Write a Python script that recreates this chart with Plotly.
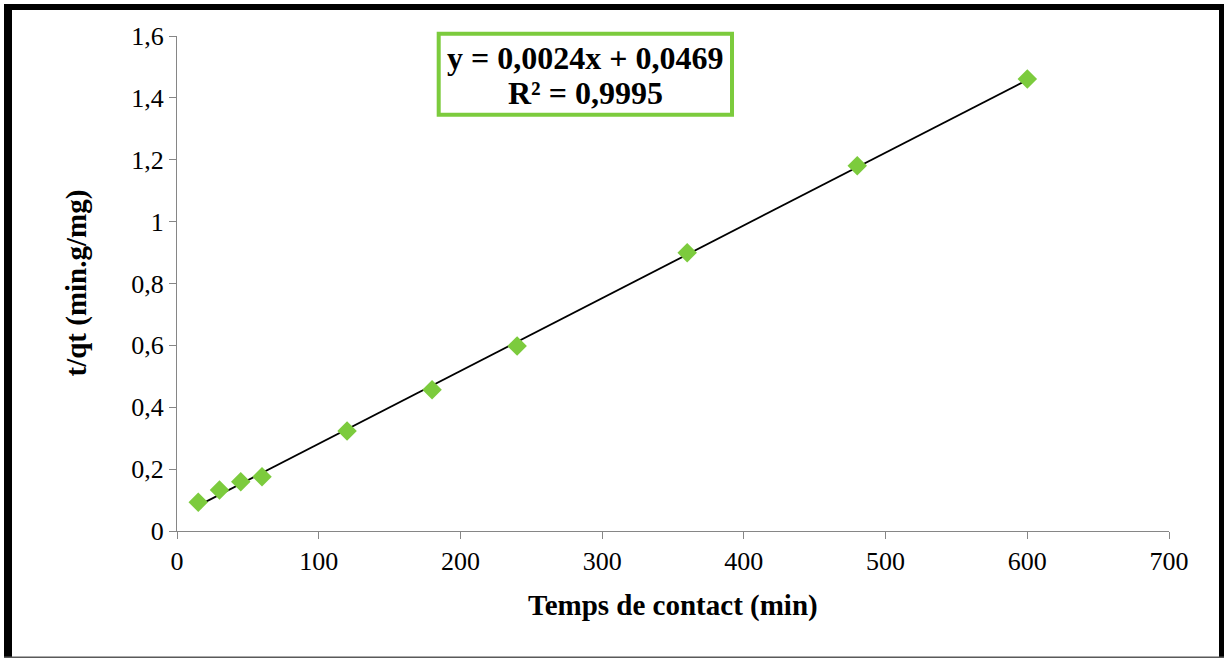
import numpy as np
import plotly.graph_objects as go

# Pseudo-second-order kinetics: t/qt versus contact time
temps = [15, 30, 45, 60, 120, 180, 240, 360, 480, 600]
t_sur_qt = [0.0928, 0.1323, 0.159, 0.1755, 0.323, 0.4569, 0.598, 0.8995, 1.181, 1.461]

x_ticks = [0, 100, 200, 300, 400, 500, 600, 700]
y_ticks = [0, 0.2, 0.4, 0.6, 0.8, 1.0, 1.2, 1.4, 1.6]

GREEN = "#7CCB3D"
AXIS_GREY = "#868686"
FONT = "Liberation Serif"

# Linear least-squares trendline
x_arr = np.array(temps, dtype=float)
y_arr = np.array(t_sur_qt, dtype=float)
pente, ordonnee = np.polyfit(x_arr, y_arr, 1)
y_fit = pente * x_arr + ordonnee
r2 = 1 - np.sum((y_arr - y_fit) ** 2) / np.sum((y_arr - y_arr.mean()) ** 2)

def fr(v, n=4):
    return f"{v:.{n}f}".replace(".", ",")

eq_text = f"y = {fr(pente)}x + {fr(ordonnee)}"
r2_text = f"R² = {fr(r2)}"

fig = go.Figure()

x_line = np.array([x_arr.min(), x_arr.max()])
fig.add_trace(go.Scatter(
    x=x_line, y=pente * x_line + ordonnee, mode="lines",
    line=dict(color="black", width=1.8), hoverinfo="skip", showlegend=False,
))
fig.add_trace(go.Scatter(
    x=temps, y=t_sur_qt, mode="markers",
    marker=dict(symbol="diamond", size=15, color=GREEN, line=dict(width=0)),
    showlegend=False,
))

# plot area in pixels: left 177, right 1169, top 36, bottom 531
L, R, T, B = 177, 1169, 36, 531
W, H = R - L, B - T

def px(x):
    return (x - L) / W

def py(y):
    return (B - y) / H

shapes = [
    # outer frame
    dict(type="rect", xref="paper", yref="paper", x0=px(4), x1=px(12), y0=py(658), y1=py(4),
         fillcolor="black", line=dict(width=0), layer="above"),
    dict(type="rect", xref="paper", yref="paper", x0=px(4), x1=px(1224), y0=py(10), y1=py(4),
         fillcolor="black", line=dict(width=0), layer="above"),
    dict(type="rect", xref="paper", yref="paper", x0=px(1219), x1=px(1224), y0=py(658), y1=py(4),
         fillcolor="black", line=dict(width=0), layer="above"),
    dict(type="rect", xref="paper", yref="paper", x0=px(4), x1=px(1224), y0=py(658), y1=py(656.5),
         fillcolor="#595959", line=dict(width=0), layer="above"),
    # equation box
    dict(type="rect", xref="paper", yref="paper", x0=px(438.7), x1=px(732), y0=py(114.7), y1=py(33.7),
         fillcolor="white", line=dict(color=GREEN, width=4), layer="above"),
]

annotations = [
    dict(text=eq_text, xref="paper", yref="paper", x=px(585), y=py(58), xanchor="center", yanchor="middle",
         showarrow=False, font=dict(family=FONT, size=32, color="black", weight="bold")),
    dict(text=r2_text, xref="paper", yref="paper", x=px(585), y=py(93), xanchor="center", yanchor="middle",
         showarrow=False, font=dict(family=FONT, size=32, color="black", weight="bold")),
    dict(text="Temps de contact (min)", xref="paper", yref="paper", x=0.5, y=py(605),
         xanchor="center", yanchor="middle", showarrow=False,
         font=dict(family=FONT, size=29, color="black", weight="bold")),
    dict(text="t/qt (min.g/mg)", xref="paper", yref="paper", x=px(76), y=0.5, textangle=-90,
         xanchor="center", yanchor="middle", showarrow=False,
         font=dict(family=FONT, size=29, color="black", weight="bold")),
]

fig.update_layout(
    width=1231, height=659,
    margin=dict(l=L, r=1231 - R, t=T, b=659 - B, autoexpand=False),
    paper_bgcolor="white", plot_bgcolor="white",
    separators=",.",
    font=dict(family=FONT, size=26, color="black"),
    shapes=shapes, annotations=annotations,
    xaxis=dict(range=[0, 700], tickvals=x_ticks, showgrid=False, zeroline=False,
               showline=True, linecolor=AXIS_GREY, linewidth=1,
               ticks="outside", ticklen=7, tickcolor=AXIS_GREY, tickwidth=1,
               tickfont=dict(family=FONT, size=26, color="black")),
    yaxis=dict(range=[0, 1.6], tickvals=y_ticks, showgrid=False, zeroline=False,
               showline=True, linecolor=AXIS_GREY, linewidth=1,
               ticks="outside", ticklen=7, tickcolor=AXIS_GREY, tickwidth=1,
               tickfont=dict(family=FONT, size=26, color="black")),
)

fig.write_html("out.html")
